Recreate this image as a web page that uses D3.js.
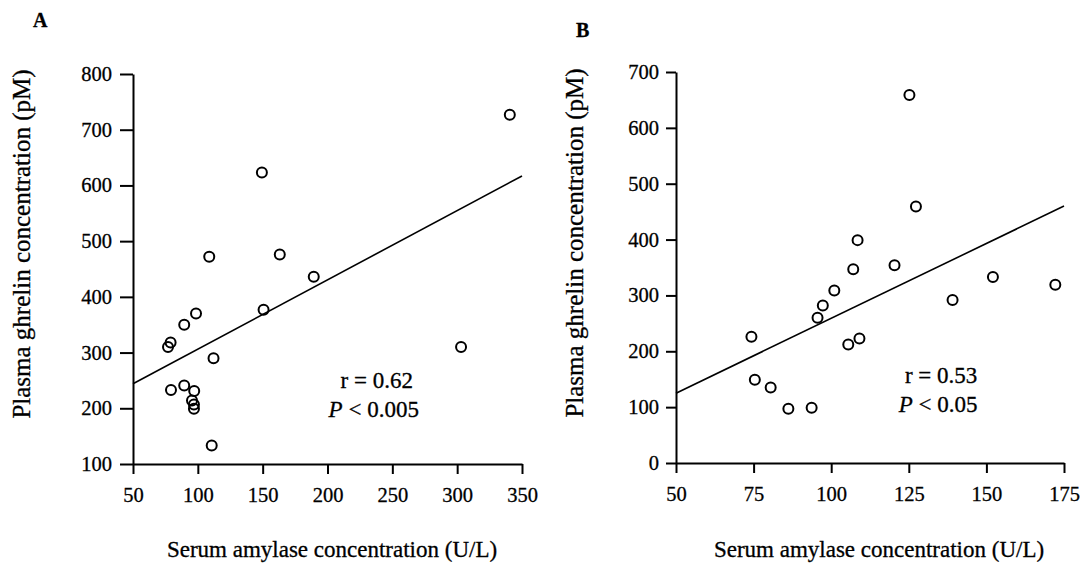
<!DOCTYPE html>
<html>
<head>
<meta charset="utf-8">
<script src="https://cdn.jsdelivr.net/npm/d3@7"></script>
<style>
  html, body { margin: 0; padding: 0; background: #fff; }
  svg { display: block; }
  text { font-family: "Liberation Serif", "Times New Roman", serif; fill: #000; stroke: #000; stroke-width: 0.3px; }
</style>
</head>
<body>
<svg id="chart" width="1092" height="566"></svg>
<script>
// ---- Data ----
// Panel A: serum amylase (U/L) vs plasma ghrelin (pM)
const amylaseA = [340.6, 149.4, 108.8, 163.2, 189.4, 150.7, 98.6, 89.5, 79, 77, 112.1, 303, 79.3, 89.5, 97.2, 95.5, 97, 97, 110.7];
const ghrelinA = [727, 623, 472, 476, 436, 377, 370, 350, 318, 310, 290, 310, 233, 241, 231, 214, 207, 199, 133];
const fitXA = [50, 350];
const fitYA = [244, 617];
const xTicksA = [50, 100, 150, 200, 250, 300, 350];
const yTicksA = [100, 200, 300, 400, 500, 600, 700, 800];

// Panel B
const amylaseB = [125.2, 127.3, 108.5, 107.1, 120.4, 152.1, 172.2, 101, 97.3, 95.6, 139.1, 74.3, 105.5, 109.1, 75.4, 80.5, 86.2, 93.7];
const ghrelinB = [659, 459, 399, 347, 354, 333, 319, 309, 282, 260, 292, 226, 212, 223, 149, 135, 97, 99];
const fitXB = [50, 175];
const fitYB = [125, 460];
const xTicksB = [50, 75, 100, 125, 150, 175];
const yTicksB = [0, 100, 200, 300, 400, 500, 600, 700];

const xTitle = "Serum amylase concentration (U/L)";
const yTitle = "Plasma ghrelin concentration (pM)";

const svg = d3.select("#chart");

function panel(cfg) {
  const g = svg.append("g");
  const x = d3.scaleLinear().domain(cfg.xDomain).range(cfg.xRange);
  const y = d3.scaleLinear().domain(cfg.yDomain).range(cfg.yRange);

  const xAxis = d3.axisBottom(x).tickValues(cfg.xTicks).tickSize(10).tickSizeOuter(0).tickPadding(13);
  const yAxis = d3.axisLeft(y).tickValues(cfg.yTicks).tickSize(cfg.yTickLen).tickSizeOuter(0).tickPadding(cfg.yTickPad);

  const gx = g.append("g").attr("transform", `translate(0,${cfg.yRange[0]})`).call(xAxis);
  const gy = g.append("g").attr("transform", `translate(${cfg.xRange[0]},0)`).call(yAxis);
  [gx, gy].forEach(a => {
    a.attr("font-family", null);
    a.select(".domain").attr("stroke", "#000").attr("stroke-width", 2);
    a.selectAll(".tick line").attr("stroke", "#000").attr("stroke-width", 2);
    a.selectAll(".tick text").attr("font-size", 20.5).attr("fill", "#000");
  });

  // regression line
  const line = d3.line().x(d => x(d[0])).y(d => y(d[1]));
  g.append("path")
    .datum(d3.zip(cfg.fitX, cfg.fitY))
    .attr("d", line)
    .attr("fill", "none")
    .attr("stroke", "#000")
    .attr("stroke-width", 1.6);

  // points
  g.selectAll("circle.pt")
    .data(d3.zip(cfg.xs, cfg.ys))
    .join("circle")
    .attr("class", "pt")
    .attr("cx", d => x(d[0]))
    .attr("cy", d => y(d[1]))
    .attr("r", 5)
    .attr("fill", "none")
    .attr("stroke", "#000")
    .attr("stroke-width", 2);

  // stats annotation
  const ax = x(cfg.annX), ay = y(cfg.annY);
  g.append("text").attr("x", ax).attr("y", ay).attr("text-anchor", "middle")
    .attr("font-size", 23).text(cfg.rText);
  const pt = g.append("text").attr("x", ax - 3).attr("y", ay + 29).attr("text-anchor", "middle")
    .attr("font-size", 23);
  pt.append("tspan").attr("font-style", "italic").text("P");
  pt.append("tspan").text(" < " + cfg.pVal);

  // axis titles
  g.append("text").attr("x", cfg.xTitleX).attr("y", 557).attr("text-anchor", "middle")
    .attr("font-size", 23).text(xTitle);
  g.append("text")
    .attr("transform", `translate(${cfg.yTitleX},${cfg.yTitleY}) rotate(-90)`)
    .attr("text-anchor", "middle").attr("font-size", 25).text(yTitle);

  // panel letter
  g.append("text").attr("x", cfg.letterX).attr("y", cfg.letterY)
    .attr("font-size", 20).attr("font-weight", "bold").text(cfg.letter);
}

panel({
  xs: amylaseA, ys: ghrelinA, fitX: fitXA, fitY: fitYA,
  xDomain: [50, 350], xRange: [133, 522],
  yDomain: [100, 800], yRange: [464, 74],
  xTicks: xTicksA, yTicks: yTicksA, yTickLen: 13, yTickPad: 8,
  annX: 238, annY: 236, rText: "r = 0.62", pVal: "0.005",
  xTitleX: 332, yTitleX: 30, yTitleY: 244,
  letter: "A", letterX: 33, letterY: 27
});

panel({
  xs: amylaseB, ys: ghrelinB, fitX: fitXB, fitY: fitYB,
  xDomain: [50, 175], xRange: [676, 1064],
  yDomain: [0, 700], yRange: [463, 72],
  xTicks: xTicksB, yTicks: yTicksB, yTickLen: 10, yTickPad: 7,
  annX: 135.4, annY: 143, rText: "r = 0.53", pVal: "0.05",
  xTitleX: 879, yTitleX: 583, yTitleY: 243,
  letter: "B", letterX: 576, letterY: 37
});
</script>
</body>
</html>
